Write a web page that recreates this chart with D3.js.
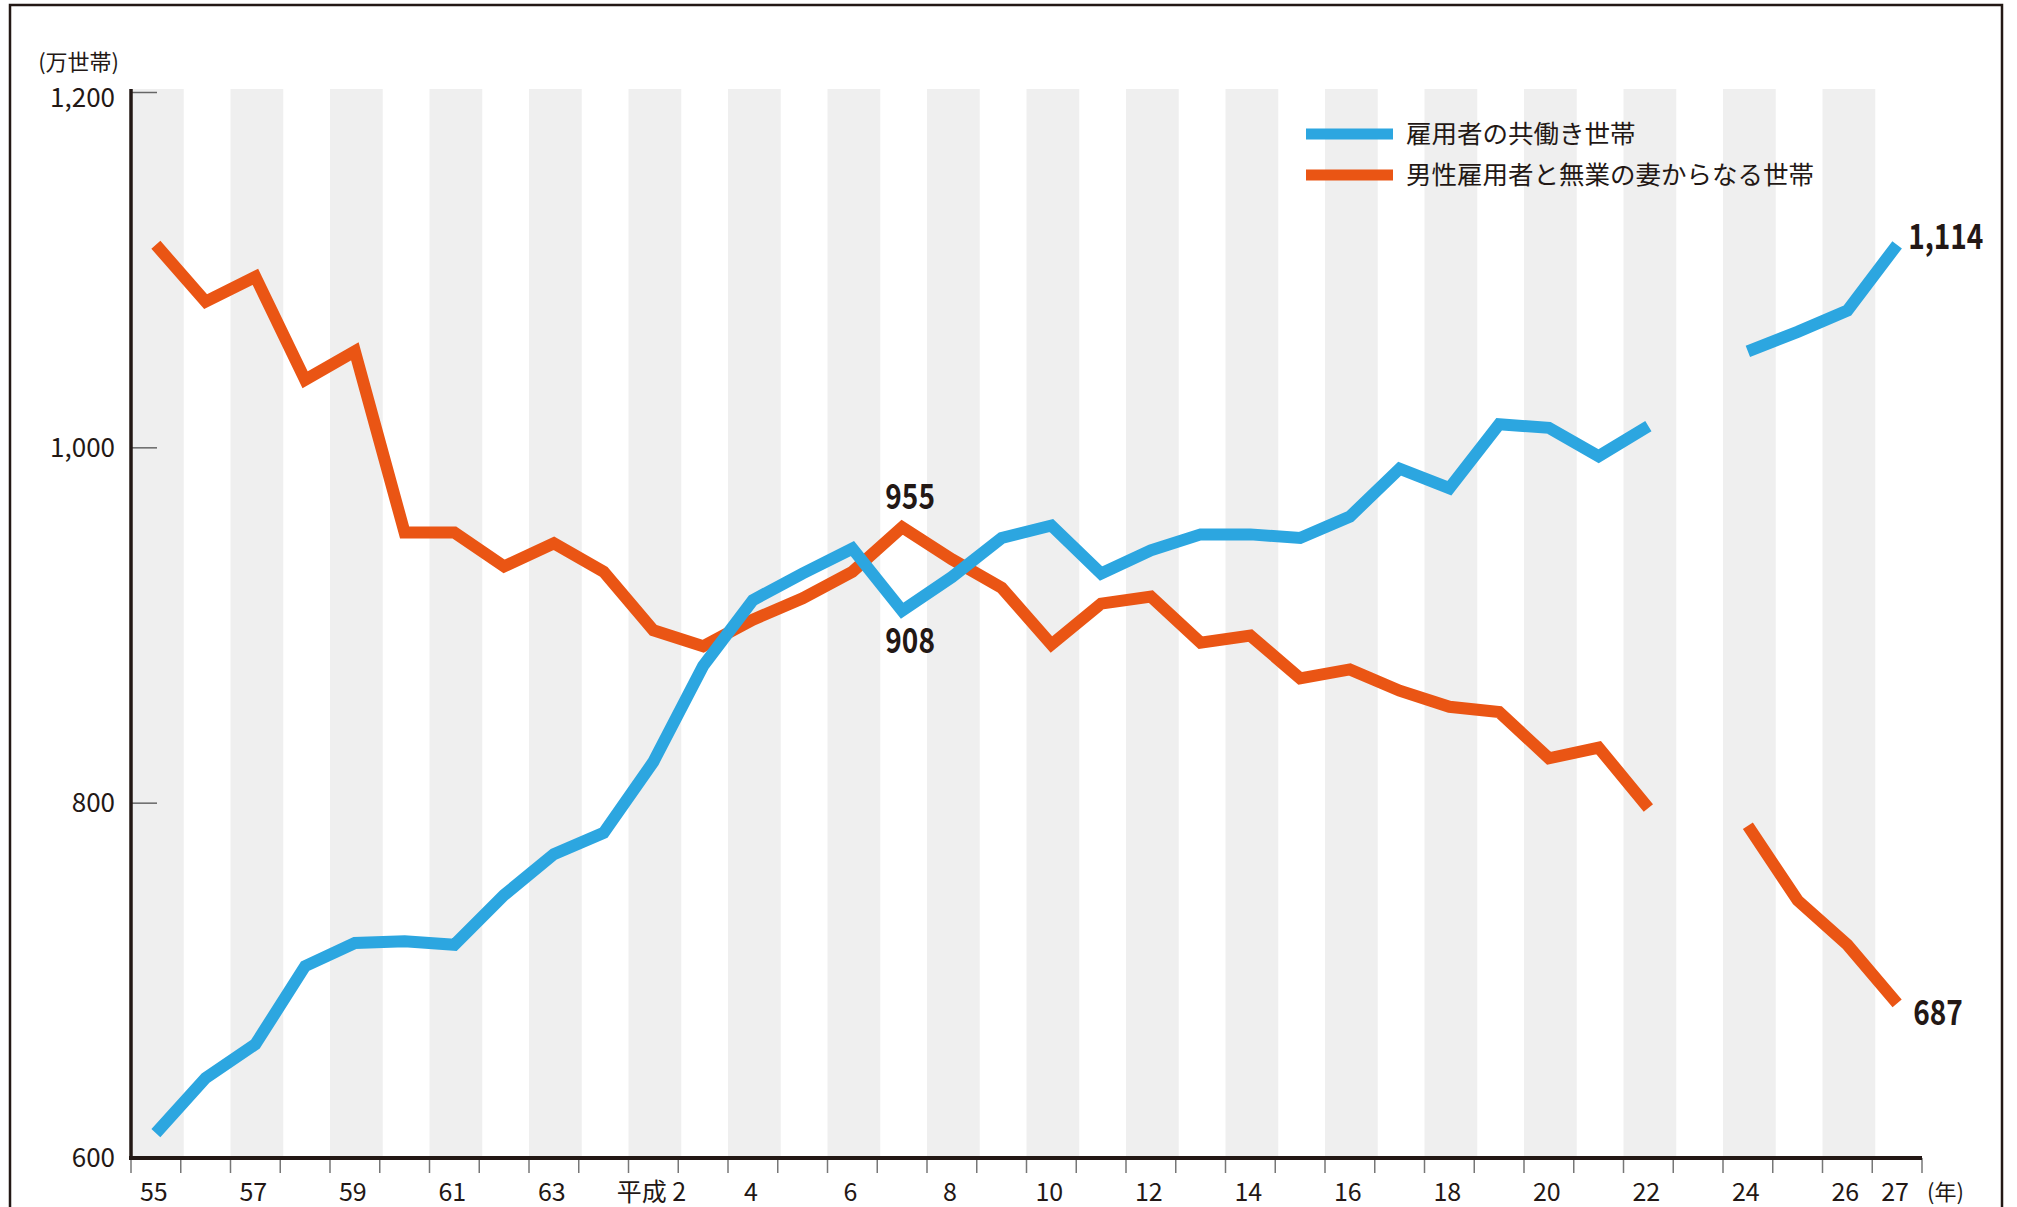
<!DOCTYPE html>
<html>
<head>
<meta charset="utf-8">
<script src="https://cdn.jsdelivr.net/npm/d3@7"></script>
<style>
  html, body { margin: 0; padding: 0; background: #fff; }
  svg { display: block; }
  .tick-label { font-family: "Noto Sans CJK JP", "Noto Sans", sans-serif; fill: #231815; }
  .data-label { font-family: "Noto Sans CJK JP", "Noto Sans", sans-serif; font-weight: bold; fill: #231815; }
</style>
</head>
<body>
<svg id="chart" width="2017" height="1207"></svg>
<script>
// 昭和55年(1980) - 平成27年(2015), 単位:万世帯
var years = d3.range(1980, 2016);
// 平成23年(2011)は岩手・宮城・福島を除くため欠損
var dualIncome = [614, 645, 664, 708, 721, 722, 720, 748, 771, 783,
                  823, 877, 914, 929, 943, 908, 927, 949, 956, 929,
                  942, 951, 951, 949, 961, 988, 977, 1013, 1011, 995,
                  1012, null, 1054, 1065, 1077, 1114];
var singleIncome = [1114, 1082, 1096, 1038, 1054, 952, 952, 933, 946, 930,
                    897, 888, 903, 915, 930, 955, 937, 921, 889, 912,
                    916, 890, 894, 870, 875, 863, 854, 851, 825, 831,
                    797, null, 787, 745, 720, 687];
var seriesNames = ["雇用者の共働き世帯", "男性雇用者と無業の妻からなる世帯"];
var yTicks = [600, 800, 1000, 1200];
// x軸に表示する年ラベル
var xTickLabels = {1980: "55", 1982: "57", 1984: "59", 1986: "61", 1988: "63",
                   1990: "平成 2", 1992: "4", 1994: "6", 1996: "8", 1998: "10",
                   2000: "12", 2002: "14", 2004: "16", 2006: "18", 2008: "20",
                   2010: "22", 2012: "24", 2014: "26", 2015: "27"};

var blue = "#2ca6e0", orange = "#ea5514", ink = "#231815";

var svg = d3.select("#chart");

// outer frame (open at the bottom)
svg.append("path")
  .attr("d", "M10,1207 V5 H2002 V1207")
  .attr("fill", "none")
  .attr("stroke", ink)
  .attr("stroke-width", 2.5);

var plotLeft = 131, plotRight = 1922, plotTop = 90, plotBottom = 1158;

var x = d3.scaleBand().domain(years).range([plotLeft, plotRight]).padding(0);
var y = d3.scaleLinear().domain([600, 1200]).range([plotBottom, 92]);
var cx = function(yr) { return x(yr) + x.bandwidth() / 2; };

// alternating grey year bands
svg.append("g").selectAll("rect")
  .data(years.filter(function(d, i) { return i % 2 === 0; }))
  .enter().append("rect")
  .attr("x", function(d) { return x(d); })
  .attr("y", plotTop - 1)
  .attr("width", x.bandwidth() + 3)
  .attr("height", plotBottom - plotTop + 1)
  .attr("fill", "#efefef");

// y axis
var yAxis = svg.append("g").attr("transform", "translate(" + plotLeft + ",0)")
  .call(d3.axisRight(y).tickValues(yTicks.slice(1)).tickSize(26).tickFormat(""));
yAxis.select(".domain").remove();
yAxis.selectAll(".tick line").attr("stroke", "#666").attr("stroke-width", 1.5);

svg.append("g").selectAll("text")
  .data(yTicks)
  .enter().append("text")
  .attr("class", "tick-label")
  .attr("x", 115)
  .attr("y", function(d) { return y(d) + (d === 1200 ? 6 : 0); })
  .attr("dy", "0.36em")
  .attr("text-anchor", "end")
  .attr("font-size", 26)
  .text(function(d) { return d3.format(",")(d); });

svg.append("text")
  .attr("class", "tick-label")
  .attr("x", 119)
  .attr("y", 62)
  .attr("dy", "0.36em")
  .attr("text-anchor", "end")
  .attr("font-size", 22)
  .text("(万世帯)");

svg.append("line")
  .attr("x1", plotLeft).attr("x2", plotLeft)
  .attr("y1", plotTop - 1).attr("y2", plotBottom)
  .attr("stroke", ink).attr("stroke-width", 3.5);

// x axis: ticks on band boundaries
var boundaries = d3.range(years.length + 1).map(function(i) { return plotLeft + i * x.bandwidth(); });
svg.append("g").selectAll("line")
  .data(boundaries)
  .enter().append("line")
  .attr("x1", function(d) { return d; }).attr("x2", function(d) { return d; })
  .attr("y1", plotBottom).attr("y2", plotBottom + 15)
  .attr("stroke", "#777").attr("stroke-width", 1.5);

svg.append("line")
  .attr("x1", plotLeft - 2).attr("x2", plotRight)
  .attr("y1", plotBottom).attr("y2", plotBottom)
  .attr("stroke", ink).attr("stroke-width", 4);

svg.append("g").selectAll("text")
  .data(Object.keys(xTickLabels))
  .enter().append("text")
  .attr("class", "tick-label")
  .attr("x", function(d) { return cx(+d) - 2; })
  .attr("y", 1192)
  .attr("dy", "0.36em")
  .attr("text-anchor", "middle")
  .attr("font-size", 25)
  .text(function(d) { return xTickLabels[d]; });

svg.append("text")
  .attr("class", "tick-label")
  .attr("x", 1927)
  .attr("y", 1192)
  .attr("dy", "0.36em")
  .attr("font-size", 22)
  .text("(年)");

// lines
var line = d3.line()
  .defined(function(d) { return d.v !== null; })
  .x(function(d) { return cx(d.year); })
  .y(function(d) { return y(d.v); });

function pairs(values) {
  return years.map(function(yr, i) { return {year: yr, v: values[i]}; });
}

[[singleIncome, orange], [dualIncome, blue]].forEach(function(s) {
  svg.append("path")
    .datum(pairs(s[0]))
    .attr("d", line)
    .attr("fill", "none")
    .attr("stroke", s[1])
    .attr("stroke-width", 12)
    .attr("stroke-linejoin", "miter")
    .attr("stroke-linecap", "butt");
});

// legend
var legend = svg.append("g").attr("transform", "translate(1306,134)");
[[seriesNames[0], blue], [seriesNames[1], orange]].forEach(function(s, i) {
  var g = legend.append("g").attr("transform", "translate(0," + (i * 41) + ")");
  g.append("line").attr("x1", 0).attr("x2", 87).attr("y1", 0).attr("y2", 0)
    .attr("stroke", s[1]).attr("stroke-width", 11);
  g.append("text").attr("class", "tick-label")
    .attr("x", 100).attr("y", 0).attr("dy", "0.36em")
    .attr("font-size", 25.5)
    .text(s[0]);
});

// value labels (condensed bold)
var i1995 = years.indexOf(1995), iLast = years.length - 1;
var labels = [
  {year: 1995, v: singleIncome[i1995], dx: 8, dy: -31, anchor: "middle"},
  {year: 1995, v: dualIncome[i1995], dx: 8, dy: 30, anchor: "middle"},
  {year: 2015, v: dualIncome[iLast], dx: 11, dy: -8, anchor: "start"},
  {year: 2015, v: singleIncome[iLast], dx: 16, dy: 9, anchor: "start"}
];
svg.append("g").selectAll("text")
  .data(labels)
  .enter().append("text")
  .attr("class", "data-label")
  .attr("transform", function(d) {
    return "translate(" + (cx(d.year) + d.dx) + "," + (y(d.v) + d.dy) + ") scale(0.8,1)";
  })
  .attr("dy", "0.36em")
  .attr("text-anchor", function(d) { return d.anchor; })
  .attr("font-size", 35)
  .text(function(d) { return d3.format(",")(d.v); });
</script>
</body>
</html>
